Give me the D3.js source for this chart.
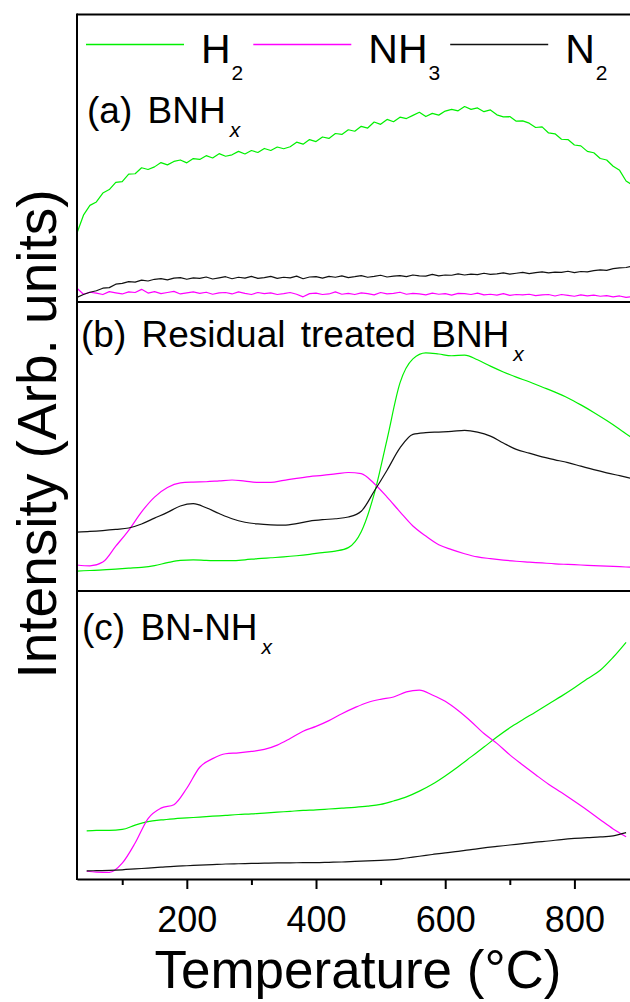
<!DOCTYPE html>
<html>
<head>
<meta charset="utf-8">
<script src="https://cdn.jsdelivr.net/npm/d3@7"></script>
<style>
  html, body { margin: 0; padding: 0; background: #fff; }
  svg { display: block; font-family: "Liberation Sans", Arial, sans-serif; }
</style>
</head>
<body>
<svg id="chart" width="630" height="1002"></svg>
<script>
/* Temperature grids (°C) */
var tempA = [30, 40, 50, 60, 70, 80, 90, 100, 110, 120, 130, 140, 150, 160, 170, 180, 190, 200, 210, 220,
  230, 240, 250, 260, 270, 280, 290, 300, 310, 320, 330, 340, 350, 360, 370, 380, 390, 400, 410, 420,
  430, 440, 450, 460, 470, 480, 490, 500, 510, 520, 530, 540, 550, 560, 570, 580, 590, 600, 610, 620,
  630, 640, 650, 660, 670, 680, 690, 700, 710, 720, 730, 740, 750, 760, 770, 780, 790, 800, 810, 820,
  830, 840, 850, 860, 870, 880, 890];
var tempB = [30, 50, 70, 90, 110, 130, 150, 170, 190, 210, 230, 250, 270, 290, 310, 330, 350, 370, 390, 410,
  430, 450, 470, 490, 510, 530, 550, 570, 590, 610, 630, 650, 670, 690, 710, 730, 750, 770, 790, 810,
  830, 850, 870, 890];
var tempC = [45, 60, 80, 100, 120, 140, 160, 180, 200, 220, 240, 260, 280, 300, 320, 340, 360, 380, 400, 420,
  440, 460, 480, 500, 520, 540, 560, 580, 600, 620, 640, 660, 680, 700, 720, 740, 760, 780, 800, 820,
  840, 860, 880];

/* (a) BNHx, arb. units */
var h2A = [24.0, 30.2, 33.6, 34.8, 37.9, 39.1, 41.6, 41.9, 44.5, 44.6,
  46.7, 46.1, 47.0, 48.5, 47.7, 48.9, 49.4, 48.4, 49.9, 49.6,
  50.9, 50.1, 51.6, 50.7, 51.2, 52.4, 51.5, 52.7, 52.0, 53.4,
  52.7, 53.9, 53.3, 54.0, 55.6, 54.9, 56.5, 55.8, 57.4, 56.9,
  58.6, 58.3, 59.9, 59.4, 61.1, 60.5, 62.6, 61.8, 63.5, 62.7,
  64.3, 63.8, 64.9, 66.0, 64.5, 65.6, 65.0, 66.4, 67.0, 66.5,
  68.0, 67.0, 67.5, 66.2, 66.8, 65.1, 64.4, 64.5, 62.9, 63.0,
  62.2, 60.7, 60.9, 58.8, 58.5, 56.6, 56.5, 54.6, 54.3, 52.4,
  51.9, 49.9, 49.4, 47.2, 45.8, 42.1, 40.6];
var nh3A = [4.8, 2.7, 3.4, 3.1, 2.6, 3.6, 3.2, 2.8, 3.5, 3.3,
  4.4, 3.1, 3.6, 2.9, 3.3, 3.7, 2.8, 3.2, 3.5, 3.0,
  3.4, 2.7, 3.2, 3.3, 2.8, 3.5, 3.0, 2.6, 3.3, 2.9,
  3.2, 2.6, 2.9, 3.3, 2.7, 1.8, 2.9, 3.1, 2.6, 2.8,
  3.5, 2.7, 3.0, 2.6, 3.2, 2.9, 2.5, 3.3, 2.8, 3.0,
  3.4, 2.7, 3.0, 2.8, 2.5, 3.1, 2.7, 2.9, 2.4, 3.0,
  2.9, 2.6, 3.1, 2.5, 2.7, 2.4, 2.9, 2.3, 2.6, 2.5,
  2.7, 2.2, 2.5, 2.6, 2.1, 2.6, 2.3, 2.0, 2.5, 2.1,
  2.4, 2.0, 2.2, 1.8, 2.1, 1.6, 1.9];
var n2A = [1.6, 2.6, 3.4, 3.9, 4.8, 5.0, 6.2, 6.5, 7.1, 6.9,
  7.6, 7.3, 7.9, 8.1, 7.7, 8.3, 8.5, 7.9, 8.4, 8.2,
  8.7, 8.0, 8.4, 8.8, 8.1, 8.6, 8.3, 8.9, 8.2, 8.5,
  8.9, 8.2, 8.6, 8.4, 9.0, 8.1, 8.7, 8.8, 8.3, 8.9,
  8.6, 9.1, 8.5, 8.8, 9.2, 8.6, 8.9, 9.3, 8.7, 9.0,
  9.2, 8.8, 9.4, 9.1, 9.0, 9.6, 9.1, 9.4, 9.3, 9.8,
  9.4, 9.7, 9.5, 10.0, 9.6, 9.8, 10.1, 9.7, 10.0, 10.3,
  9.9, 10.2, 10.5, 10.1, 10.4, 10.3, 10.7, 10.2, 10.6, 10.5,
  10.9, 11.2, 11.0, 11.6, 11.9, 12.0, 12.5];

/* (b) Residual treated BNHx */
var h2B = [6.9, 7.1, 7.3, 7.6, 7.9, 8.2, 8.8, 9.8, 10.6, 10.8,
  10.6, 10.5, 10.5, 10.8, 11.2, 11.5, 11.8, 12.2, 12.7, 13.3,
  13.8, 15.0, 20.5, 33.5, 52.5, 72.0, 80.3, 82.4, 82.0, 81.4,
  81.6, 80.0, 77.8, 75.8, 74.0, 72.4, 70.6, 68.8, 66.8, 64.4,
  61.8, 59.0, 56.0, 52.8];
var nh3B = [9.0, 8.7, 10.0, 15.5, 21.0, 27.4, 32.5, 35.8, 37.4, 37.7,
  37.8, 38.1, 38.4, 38.0, 37.6, 37.6, 38.3, 39.0, 39.6, 40.0,
  40.5, 41.0, 40.6, 37.2, 32.5, 27.4, 22.5, 19.0, 16.0, 14.3,
  12.9, 11.8, 11.2, 10.7, 10.3, 10.0, 9.7, 9.4, 9.2, 9.0,
  8.8, 8.6, 8.4, 8.2];
var n2B = [20.4, 20.6, 20.9, 21.3, 21.8, 23.2, 25.2, 27.2, 29.4, 30.2,
  28.8, 26.8, 25.0, 23.8, 23.2, 22.9, 22.8, 23.3, 24.2, 24.7,
  25.0, 25.6, 27.6, 34.5, 41.8, 49.5, 54.2, 54.8, 55.0, 55.2,
  55.6, 55.0, 53.6, 51.2, 49.0, 47.7, 46.4, 45.4, 44.4, 43.2,
  42.0, 40.9, 39.9, 38.9];

/* (c) BN-NHx */
var h2C = [16.7, 16.9, 16.9, 17.2, 18.7,
  19.9, 20.5, 20.9, 21.2, 21.5, 21.8, 22.1, 22.4, 22.6, 22.9,
  23.2, 23.5, 23.8, 24.0, 24.3, 24.6, 24.9, 25.3, 25.9, 27.1,
  28.5, 30.5, 32.9, 35.8, 39.0, 42.4, 45.8, 49.3, 52.5, 55.3,
  58.0, 60.8, 63.5, 66.4, 69.5, 72.5, 77.0, 82.2];
var nh3C = [2.7, 2.4, 2.3, 5.5, 12.5,
  21.0, 24.6, 25.8, 31.5, 38.8, 41.8, 43.5, 43.8, 44.3, 45.0,
  46.5, 48.8, 51.3, 53.0, 55.0, 57.4, 59.5, 61.3, 62.4, 63.2,
  65.0, 65.6, 63.9, 61.7, 58.5, 54.7, 50.5, 47.1, 43.1, 39.6,
  36.2, 32.9, 30.0, 27.0, 23.9, 20.6, 17.4, 14.7];
var n2C = [2.8, 2.9, 3.0, 3.2, 3.5,
  3.8, 4.1, 4.4, 4.6, 4.8, 5.0, 5.2, 5.3, 5.4, 5.5,
  5.6, 5.6, 5.7, 5.7, 5.8, 5.9, 6.1, 6.3, 6.5, 6.7,
  7.3, 7.9, 8.5, 9.1, 9.6, 10.2, 10.8, 11.3, 11.8, 12.3,
  12.8, 13.2, 13.7, 14.1, 14.4, 14.6, 15.0, 16.1];

/* Names and ticks */
var seriesNames = ["H2", "NH3", "N2"];
var panelNames = ["(a) BNH", "(b) Residual treated BNH", "(c) BN-NH"];
var majorTicks = [200, 400, 600, 800];
var minorTicks = [100, 300, 500, 700];

/* Style settings */
var defaultSet = {
  colors : { H2 : "#00f000", NH3 : "#ff00ff", N2 : "#111111" },
  lineWidth : 1.2,
  frameWidth : 2,
  left : 77,
  panelFont : 37,
  svgSelector : "svg#chart"
};

var chartSVG = d3.select(defaultSet.svgSelector);

var x = d3.scaleLinear().domain([30, 900]).range([defaultSet.left, 639]);

/* Panel boxes and label spots */
var panels = [
  { top : 14.5, bottom : 302, labelX : 87, labelY : 123, temps : tempA, curve : d3.curveLinear,
    values : { H2 : h2A, NH3 : nh3A, N2 : n2A } },
  { top : 302, bottom : 591, labelX : 81, labelY : 347, temps : tempB, curve : d3.curveMonotoneX,
    values : { H2 : h2B, NH3 : nh3B, N2 : n2B } },
  { top : 591, bottom : 879, labelX : 82, labelY : 640, temps : tempC, curve : d3.curveMonotoneX,
    values : { H2 : h2C, NH3 : nh3C, N2 : n2C } }
];

panels.forEach(function(p, i) {
  var y = d3.scaleLinear().domain([0, 100]).range([p.bottom, p.top]);
  var g = chartSVG.append("g").attr("class", "panel");

  var line = d3.line()
    .curve(p.curve)
    .x(d => x(d[0]))
    .y(d => y(d[1]));

  seriesNames.forEach(function(name) {
    var pts = p.temps.map((t, k) => [t, p.values[name][k]]);
    g.append("path")
      .datum(pts)
      .attr("d", line)
      .attr("fill", "none")
      .attr("stroke", defaultSet.colors[name])
      .attr("stroke-width", defaultSet.lineWidth)
      .attr("stroke-linejoin", "round");
  });

  /* panel label with italic subscript x */
  var label = g.append("text")
    .attr("x", p.labelX)
    .attr("y", p.labelY)
    .style("font-size", defaultSet.panelFont + "px")
    .style("word-spacing", "5px");
  label.append("tspan").text(panelNames[i]);
  label.append("tspan")
    .text("x")
    .attr("dx", 4)
    .attr("dy", 14)
    .style("font-size", "21px")
    .style("font-style", "italic");

  /* divider / top line */
  chartSVG.append("line")
    .attr("x1", defaultSet.left).attr("x2", 630)
    .attr("y1", p.top).attr("y2", p.top)
    .attr("stroke", "#000")
    .attr("stroke-width", defaultSet.frameWidth);
});

/* Left axis line */
chartSVG.append("line")
  .attr("x1", defaultSet.left).attr("x2", defaultSet.left)
  .attr("y1", panels[0].top - 1).attr("y2", panels[2].bottom + 1)
  .attr("stroke", "#000")
  .attr("stroke-width", defaultSet.frameWidth);

/* Bottom axis: minor then major ticks */
var axisY = panels[2].bottom;

var minorAxis = chartSVG.append("g")
  .attr("transform", `translate(0, ${axisY})`)
  .call(d3.axisBottom(x).tickValues(minorTicks).tickSize(6).tickSizeOuter(0).tickFormat(""));
minorAxis.select(".domain").remove();

var majorAxis = chartSVG.append("g")
  .attr("transform", `translate(0, ${axisY})`)
  .call(d3.axisBottom(x).tickValues(majorTicks).tickSize(10).tickSizeOuter(0).tickPadding(17).tickFormat(d3.format("d")));

chartSVG.selectAll(".tick line").attr("stroke-width", 2);
majorAxis.select(".domain").attr("stroke-width", defaultSet.frameWidth);
majorAxis.selectAll("text")
  .style("font-size", "36px")
  .style("font-family", "'Liberation Sans', Arial, sans-serif")
  .attr("fill", "#000");

/* Axis titles */
chartSVG.append("text")
  .attr("x", 358)
  .attr("y", 988)
  .attr("text-anchor", "middle")
  .style("font-size", "53px")
  .text("Temperature (°C)");

chartSVG.append("text")
  .attr("transform", "translate(56, 434) rotate(-90)")
  .attr("text-anchor", "middle")
  .style("font-size", "55px")
  .text("Intensity (Arb. units)");

/* Legend across the top of panel (a) */
var legend = chartSVG.append("g").attr("class", "legend");
var legendX = 86;
seriesNames.forEach(function(name) {
  legend.append("line")
    .attr("x1", legendX).attr("x2", legendX + 98)
    .attr("y1", 44.5).attr("y2", 44.5)
    .attr("stroke", defaultSet.colors[name])
    .attr("stroke-width", 1.4);

  var t = legend.append("text")
    .attr("x", legendX + 98 + 17)
    .attr("y", 63)
    .style("font-size", "41px");
  t.append("tspan").text(name.slice(0, -1));
  t.append("tspan")
    .text(name.slice(-1))
    .attr("dx", 1)
    .attr("dy", 17)
    .style("font-size", "21px");

  legendX = legendX + 98 + 17 + t.node().getComputedTextLength() + 11;
});
</script>
</body>
</html>
